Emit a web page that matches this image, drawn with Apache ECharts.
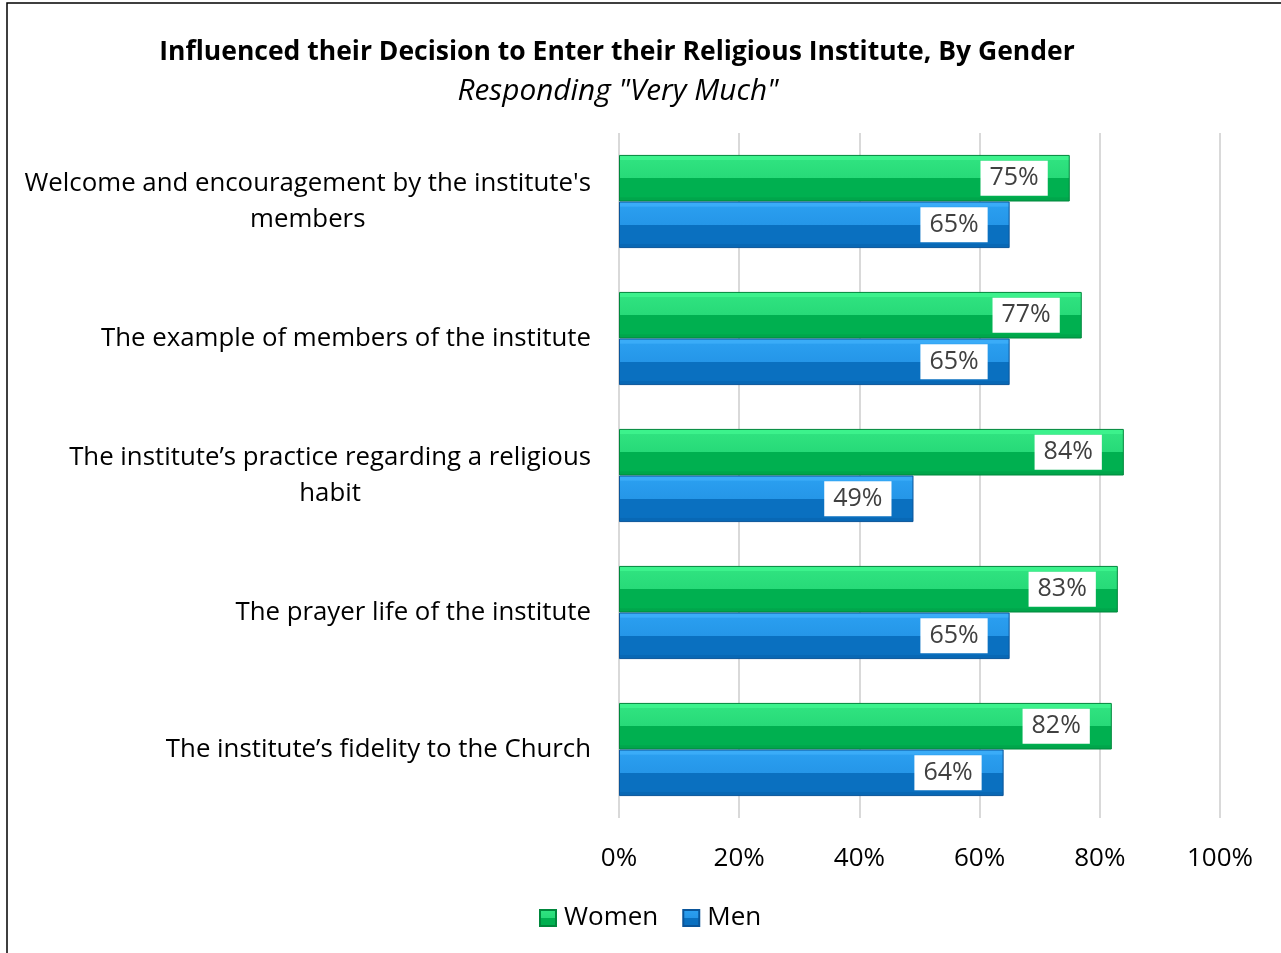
<!DOCTYPE html>
<html><head><meta charset="utf-8">
<script src="https://cdn.jsdelivr.net/npm/echarts@6/dist/echarts.min.js"></script>
<style>html,body{margin:0;padding:0;background:#fff}#c{width:1281px;height:953px}</style>
</head><body><div id="c"></div>
<script>
const categories = [
  "Welcome and encouragement by the institute's\nmembers",
  "The example of members of the institute",
  "The institute\u2019s practice regarding a religious\nhabit",
  "The prayer life of the institute",
  "The institute\u2019s fidelity to the Church"
];
const women = [75, 77, 84, 83, 82];
const men = [65, 65, 49, 65, 64];
const xTicks = [0, 20, 40, 60, 80, 100];
const titleText = "Influenced their Decision to Enter their Religious Institute, By Gender";
const subText = "Responding \"Very Much\"";

const FONT = "Open Sans";
function grad(c0, c1, c2, c3, c4) {
  return new echarts.graphic.LinearGradient(0, 0, 0, 1, [
    {offset: 0, color: c0}, {offset: 0.1, color: c0},
    {offset: 0.12, color: c1}, {offset: 0.5, color: c2},
    {offset: 0.5, color: c3}, {offset: 0.9, color: c3},
    {offset: 0.92, color: c4}, {offset: 1, color: c4}
  ]);
}
const greenFill = grad('#3cf28c', '#2fe27f', '#27da78', '#00b050', '#00a64b');
const blueFill = grad('#3aacf8', '#2a9eef', '#2596e8', '#0a70c0', '#0868b5');

const chart = echarts.init(document.getElementById('c'));
const labelStyle = {
  show: true, position: 'insideRight', distance: 22,
  formatter: p => p.value + '%',
  backgroundColor: '#fff', padding: [6, 9, 4, 9],
  color: '#404040', fontFamily: FONT, fontSize: 25
};
chart.setOption({
  animation: false,
  title: [
    {text: titleText, left: 612, top: 34, textAlign: 'center',
     textStyle: {fontFamily: FONT, fontWeight: 'bold', fontSize: 26.5, color: '#000'}},
    {text: subText, left: 613, top: 72, textAlign: 'center',
     textStyle: {fontFamily: FONT, fontStyle: 'italic', fontWeight: 'normal', fontSize: 29.8, color: '#000'}}
  ],
  graphic: [{type: 'rect', shape: {x: 7, y: 3, width: 1400, height: 1100},
             style: {fill: 'none', stroke: '#000', lineWidth: 1.5}, silent: true}],
  grid: {left: 619, right: 61, top: 133, bottom: 135, containLabel: false},
  legend: {
    data: ['Women', 'Men'], left: 534, top: 900, itemWidth: 16, itemHeight: 16,
    itemGap: 24, icon: 'rect',
    textStyle: {fontFamily: FONT, fontSize: 26, color: '#000', padding: [0, 0, 0, 3]}
  },
  xAxis: {
    type: 'value', min: 0, max: 100, interval: 20,
    axisLine: {show: false}, axisTick: {show: false},
    splitLine: {lineStyle: {color: '#d9d9d9', width: 2}},
    axisLabel: {formatter: v => xTicks.includes(v) ? v + '%' : '', margin: 28,
      fontFamily: FONT, fontSize: 26, color: '#000'}
  },
  yAxis: {
    type: 'category', data: categories, inverse: true,
    axisLine: {show: false}, axisTick: {show: false},
    axisLabel: {
      margin: 28, fontFamily: FONT, fontSize: 25.8, color: '#000', lineHeight: 36,
      formatter: v => v.split('\n').map(s => '{c|' + s + '}').join('\n'),
      rich: {c: {align: 'center', fontFamily: FONT, fontSize: 25.8, color: '#000', lineHeight: 36}}
    }
  },
  series: [
    {name: 'Women', type: 'bar', data: women, barGap: '0%', barCategoryGap: '32%',
     itemStyle: {color: greenFill, borderColor: '#00873c', borderWidth: 1},
     label: labelStyle},
    {name: 'Men', type: 'bar', data: men, barGap: '0%', barCategoryGap: '32%',
     itemStyle: {color: blueFill, borderColor: '#0a559a', borderWidth: 1},
     label: labelStyle}
  ]
});
</script></body></html>
